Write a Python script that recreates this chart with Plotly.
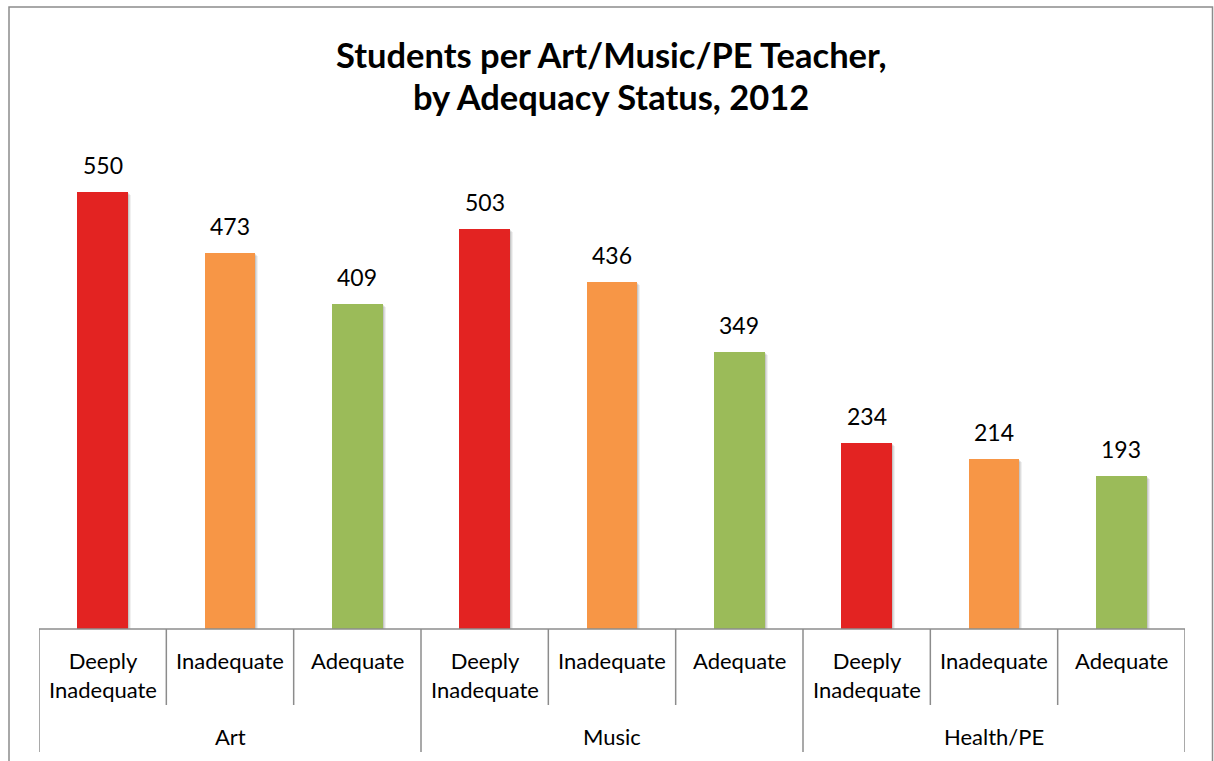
import plotly.graph_objects as go

# Data
subjects = ["Art", "Music", "Health/PE"]
statuses = ["Deeply<br>Inadequate", "Inadequate", "Adequate"]
status_colors = ["#E32322", "#F79646", "#9BBB59"]
art_values = [550, 473, 409]
music_values = [503, 436, 349]
health_pe_values = [234, 214, 193]
title_lines = ["Students per Art/Music/PE Teacher,", "by Adequacy Status, 2012"]

W, H = 1214, 761
FONT = "Lato, 'Open Sans', sans-serif"

series = [art_values, music_values, health_pe_values]
xs, ys, colors = [], [], []
for g, vals in enumerate(series):
    for s, v in enumerate(vals):
        xs.append(g * len(statuses) + s)
        ys.append(v)
        colors.append(status_colors[s])

n = len(xs)
fig = go.Figure()
# soft drop shadow behind each bar
for off, alpha in [(3, 0.06), (2, 0.08), (1, 0.10)]:
    fig.add_trace(go.Bar(
        x=[x + off * 0.0079 for x in xs], y=ys, width=0.4,
        marker=dict(color=f"rgba(0,0,0,{alpha})", line=dict(width=0)),
        base=[-off * 1.26] * n, hoverinfo="skip",
    ))
fig.add_trace(go.Bar(
    x=xs, y=ys, width=0.4,
    marker=dict(color=colors, line=dict(width=0)),
    hoverinfo="skip",
))

# plot area in pixels
left_px, right_px, base_px, top_px = 39, 1185, 629, 152
x_dom = [left_px / W, right_px / W]
y_dom = [(H - base_px) / H, (H - top_px) / H]

shapes = []
axis_color = "#8C8C8C"
# chart border
shapes.append(dict(type="rect", xref="paper", yref="paper",
                   x0=9 / W, x1=1212.5 / W, y0=-0.02, y1=(H - 7) / H,
                   line=dict(color="#8C8C8C", width=1.5), fillcolor="rgba(0,0,0,0)"))
# baseline
shapes.append(dict(type="line", xref="x", yref="paper", x0=-0.5, x1=n - 0.5,
                   y0=y_dom[0], y1=y_dom[0], line=dict(color=axis_color, width=1.5)))
# category dividers
inner_bottom = (H - 705) / H
group_bottom = (H - 752) / H
for k in range(n + 1):
    is_group = k % len(statuses) == 0
    shapes.append(dict(type="line", xref="x", yref="paper", x0=k - 0.5, x1=k - 0.5,
                       y0=group_bottom if is_group else inner_bottom, y1=y_dom[0],
                       line=dict(color=axis_color, width=1.5)))

annotations = []
# value labels above bars
for i in range(n):
    annotations.append(dict(x=xs[i], xref="x", y=ys[i], yref="y", text=str(ys[i]),
                            showarrow=False, xanchor="center", yanchor="middle", yshift=27,
                            font=dict(family=FONT, size=23, color="#000000")))
for i in range(n):
    annotations.append(dict(x=xs[i], xref="x", y=(H - 645) / H, yref="paper",
                            text=statuses[i % len(statuses)], showarrow=False,
                            yanchor="top", xanchor="center",
                            font=dict(family=FONT, size=22, color="#000000")))
for g, name in enumerate(subjects):
    annotations.append(dict(x=g * len(statuses) + 1, xref="x", y=(H - 736) / H, yref="paper",
                            text=name, showarrow=False, yanchor="middle", xanchor="center",
                            font=dict(family=FONT, size=22, color="#000000")))
for line, ypx in zip(title_lines, [55, 96]):
    annotations.append(dict(x=611 / W, xref="paper", y=(H - ypx) / H, yref="paper",
                            text=f"<b>{line}</b>", showarrow=False,
                            xanchor="center", yanchor="middle",
                            font=dict(family=FONT, size=34.5, color="#000000")))

fig.update_layout(
    width=W, height=H, margin=dict(l=0, r=0, t=0, b=0),
    paper_bgcolor="#FFFFFF", plot_bgcolor="#FFFFFF",
    showlegend=False, bargap=0, barmode="overlay",
    xaxis=dict(domain=x_dom, range=[-0.5, n - 0.5], visible=False, fixedrange=True),
    yaxis=dict(domain=y_dom, range=[0, 600], visible=False, fixedrange=True),
    shapes=shapes, annotations=annotations,
)

fig.write_html("out.html")
